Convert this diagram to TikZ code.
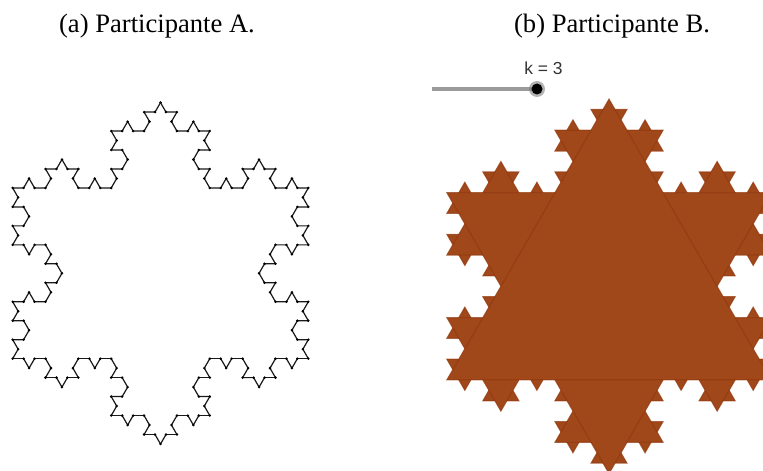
\documentclass[tikz,border=0pt]{standalone}
\usepackage{fontspec}
\setmainfont{Liberation Serif}
\setsansfont{Liberation Sans}
\usepackage{tikz}
\usetikzlibrary{positioning}
\definecolor{kochfill}{RGB}{161,72,27}
\definecolor{kochline}{RGB}{146,56,14}
\definecolor{curvecolor}{RGB}{25,25,25}
\definecolor{slidergray}{RGB}{155,155,155}

% Koch outline: segment (#1,#2)--(#3,#4), depth #5
\newcommand{\kochcurve}[5]{%
  \ifnum#5=0
    \draw[curve] (#1,#2) -- (#3,#4);
    \fill[curvedot] (#1,#2) circle (1.4);
  \else
    \begingroup
    \pgfmathsetmacro\kpx{#1+(#3-#1)/3}%
    \pgfmathsetmacro\kpy{#2+(#4-#2)/3}%
    \pgfmathsetmacro\kqx{#1+2*(#3-#1)/3}%
    \pgfmathsetmacro\kqy{#2+2*(#4-#2)/3}%
    \pgfmathsetmacro\kcx{(#1+#3)/2+0.288675*(#4-#2)}%
    \pgfmathsetmacro\kcy{(#2+#4)/2-0.288675*(#3-#1)}%
    \edef\knext{%
      \noexpand\kochcurve{#1}{#2}{\kpx}{\kpy}{\the\numexpr#5-1\relax}%
      \noexpand\kochcurve{\kpx}{\kpy}{\kcx}{\kcy}{\the\numexpr#5-1\relax}%
      \noexpand\kochcurve{\kcx}{\kcy}{\kqx}{\kqy}{\the\numexpr#5-1\relax}%
      \noexpand\kochcurve{\kqx}{\kqy}{#3}{#4}{\the\numexpr#5-1\relax}}%
    \knext
    \endgroup
  \fi}

% Koch triangles: bump on segment (#1,#2)--(#3,#4), depth #5
\newcommand{\kochbump}[5]{%
  \ifnum#5>0
    \begingroup
    \pgfmathsetmacro\kpx{#1+(#3-#1)/3}%
    \pgfmathsetmacro\kpy{#2+(#4-#2)/3}%
    \pgfmathsetmacro\kqx{#1+2*(#3-#1)/3}%
    \pgfmathsetmacro\kqy{#2+2*(#4-#2)/3}%
    \pgfmathsetmacro\kcx{(#1+#3)/2+0.288675*(#4-#2)}%
    \pgfmathsetmacro\kcy{(#2+#4)/2-0.288675*(#3-#1)}%
    \filldraw[tri] (\kpx,\kpy) -- (\kcx,\kcy) -- (\kqx,\kqy) -- cycle;
    \edef\knext{%
      \noexpand\kochbump{#1}{#2}{\kpx}{\kpy}{\the\numexpr#5-1\relax}%
      \noexpand\kochbump{\kpx}{\kpy}{\kcx}{\kcy}{\the\numexpr#5-1\relax}%
      \noexpand\kochbump{\kcx}{\kcy}{\kqx}{\kqy}{\the\numexpr#5-1\relax}%
      \noexpand\kochbump{\kqx}{\kqy}{#3}{#4}{\the\numexpr#5-1\relax}}%
    \knext
    \endgroup
  \fi}

\begin{document}
\begin{tikzpicture}[x=0.5pt,y=-0.5pt,
    curve/.style={curvecolor, line width=0.6pt},
    curvedot/.style={black},
    tri/.style={fill=kochfill, draw=kochline, line width=0.5pt, draw opacity=0.7},
    caption/.style={inner sep=0pt, anchor=base, font=\fontsize{13.3}{16}\selectfont}]
  \useasboundingbox (0,0) rectangle (763,470);
  \clip (0,0) rectangle (763,470);
  % captions
  \node[caption] (capA) at (157,33) {(a) Participante A.};
  \node[caption] (capB) at (612,33) {(b) Participante B.};
  % (a) outline of the snowflake, depth 3
  \kochcurve{160.5}{102.6}{308.33}{358.65}{3}
  \kochcurve{308.33}{358.65}{12.67}{358.65}{3}
  \kochcurve{12.67}{358.65}{160.5}{102.6}{3}
  % (b) main triangle and its bumps, k = 3
  \filldraw[tri] (609,99) -- (771.2,379.95) -- (446.8,379.95) -- cycle;
  \kochbump{609}{99}{771.2}{379.95}{3}
  \kochbump{771.2}{379.95}{446.8}{379.95}{3}
  \kochbump{446.8}{379.95}{609}{99}{3}
  % slider k
  \draw[slidergray, line width=2pt] (432,89) -- (537,89);
  \fill[gray, opacity=0.6] (537,89) circle (8);
  \fill[black] (537,89) circle (5.5);
  \node[inner sep=0pt, anchor=base west, text=black!80, font=\sffamily\fontsize{8.7}{10}\selectfont] (klabel) at (524,75) {k = 3};
\end{tikzpicture}
\end{document}
